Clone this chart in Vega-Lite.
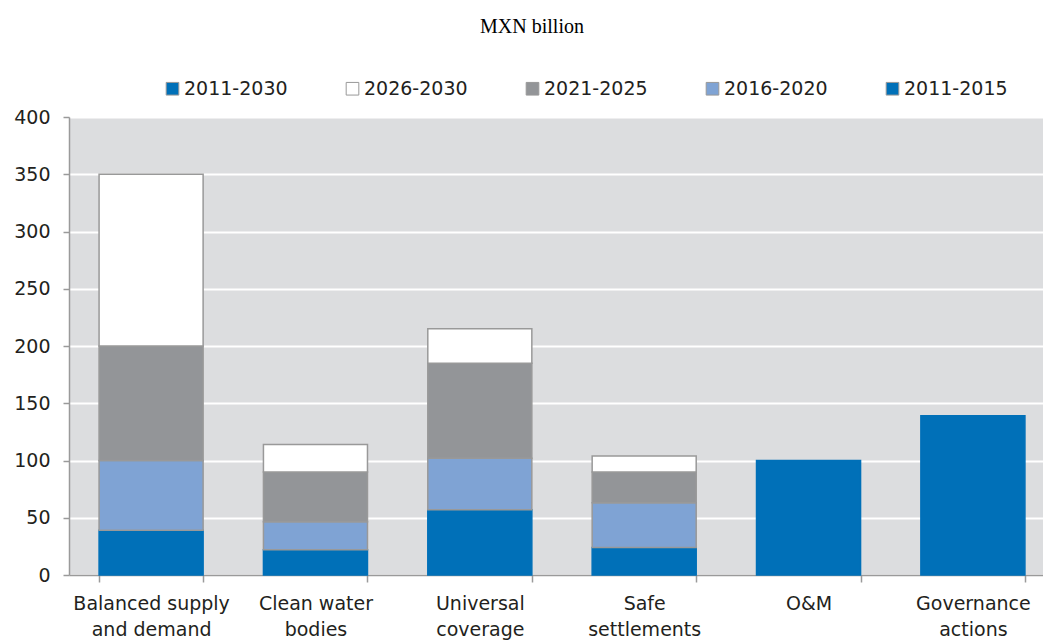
{
  "$schema": "https://vega.github.io/schema/vega-lite/v6.json",
  "autosize": {"type": "none"},
  "width": 986,
  "height": 458,
  "padding": {"left": 69, "top": 117, "right": -12, "bottom": 65},
  "background": "white",
  "title": {
    "text": "MXN billion",
    "font": "Liberation Serif",
    "fontSize": 20,
    "fontWeight": "normal",
    "color": "#000000",
    "anchor": "middle",
    "dx": -30,
    "offset": 42
  },
  "config": {
    "view": {"fill": "#dcdddf", "stroke": null},
    "font": "DejaVu Sans"
  },
  "data": {
    "values": [
      {"category": "Balanced supply|and demand", "series": "2011-2015", "value": 39},
      {"category": "Balanced supply|and demand", "series": "2016-2020", "value": 61},
      {"category": "Balanced supply|and demand", "series": "2021-2025", "value": 100},
      {"category": "Balanced supply|and demand", "series": "2026-2030", "value": 150},
      {"category": "Clean water|bodies", "series": "2011-2015", "value": 22},
      {"category": "Clean water|bodies", "series": "2016-2020", "value": 24.5},
      {"category": "Clean water|bodies", "series": "2021-2025", "value": 43.5},
      {"category": "Clean water|bodies", "series": "2026-2030", "value": 24},
      {"category": "Universal|coverage", "series": "2011-2015", "value": 57},
      {"category": "Universal|coverage", "series": "2016-2020", "value": 45},
      {"category": "Universal|coverage", "series": "2021-2025", "value": 83},
      {"category": "Universal|coverage", "series": "2026-2030", "value": 30},
      {"category": "Safe|settlements", "series": "2011-2015", "value": 24},
      {"category": "Safe|settlements", "series": "2016-2020", "value": 39},
      {"category": "Safe|settlements", "series": "2021-2025", "value": 27},
      {"category": "Safe|settlements", "series": "2026-2030", "value": 14},
      {"category": "O&M", "series": "2011-2030", "value": 100},
      {"category": "Governance|actions", "series": "2011-2030", "value": 139}
    ]
  },
  "mark": {"type": "bar", "strokeWidth": 1.5},
  "encoding": {
    "x": {
      "field": "category",
      "type": "nominal",
      "sort": ["Balanced supply|and demand", "Clean water|bodies", "Universal|coverage", "Safe|settlements", "O&M", "Governance|actions"],
      "scale": {"paddingInner": 0.367, "paddingOuter": 0.183},
      "axis": {
        "title": null,
        "labelAngle": 0,
        "labelExpr": "split(datum.label, '|')",
        "labelFont": "DejaVu Sans",
        "labelFontSize": 19,
        "labelColor": "#231f20",
        "labelLineHeight": 26,
        "labelPadding": 12,
        "tickBand": "extent",
        "tickSize": 7,
        "tickColor": "#9a9a9a",
        "tickWidth": 1.5,
        "domainColor": "#9a9a9a",
        "domainWidth": 1.5,
        "grid": false
      }
    },
    "y": {
      "field": "value",
      "type": "quantitative",
      "stack": "zero",
      "scale": {"domain": [0, 400], "nice": false},
      "axis": {
        "title": null,
        "values": [0, 50, 100, 150, 200, 250, 300, 350, 400],
        "labelFont": "DejaVu Sans",
        "labelFontSize": 19,
        "labelColor": "#231f20",
        "labelPadding": 13,
        "tickSize": 6,
        "tickColor": "#9a9a9a",
        "tickWidth": 1.5,
        "domainColor": "#9a9a9a",
        "domainWidth": 1.5,
        "gridColor": "#ffffff",
        "gridWidth": 2,
        "gridOpacity": 1
      }
    },
    "color": {
      "field": "series",
      "type": "nominal",
      "scale": {
        "domain": ["2011-2030", "2026-2030", "2021-2025", "2016-2020", "2011-2015"],
        "range": ["#0070b8", "#ffffff", "#939598", "#7fa3d4", "#0070b8"]
      },
      "legend": {
        "title": null,
        "orient": "none",
        "legendX": 94,
        "legendY": -38,
        "direction": "horizontal",
        "columns": 5,
        "symbolType": "square",
        "symbolSize": 160,
        "symbolStrokeColor": "#999999",
        "symbolStrokeWidth": 1,
        "labelFont": "DejaVu Sans",
        "labelFontSize": 19,
        "labelColor": "#231f20",
        "labelOffset": 2,
        "columnPadding": 55,
        "padding": 0
      }
    },
    "stroke": {
      "condition": {"test": "datum.series == '2011-2015' || datum.series == '2011-2030'", "value": "#0070b8"},
      "value": "#999999"
    },
    "order": {"field": "series", "sort": "ascending"}
  }
}
